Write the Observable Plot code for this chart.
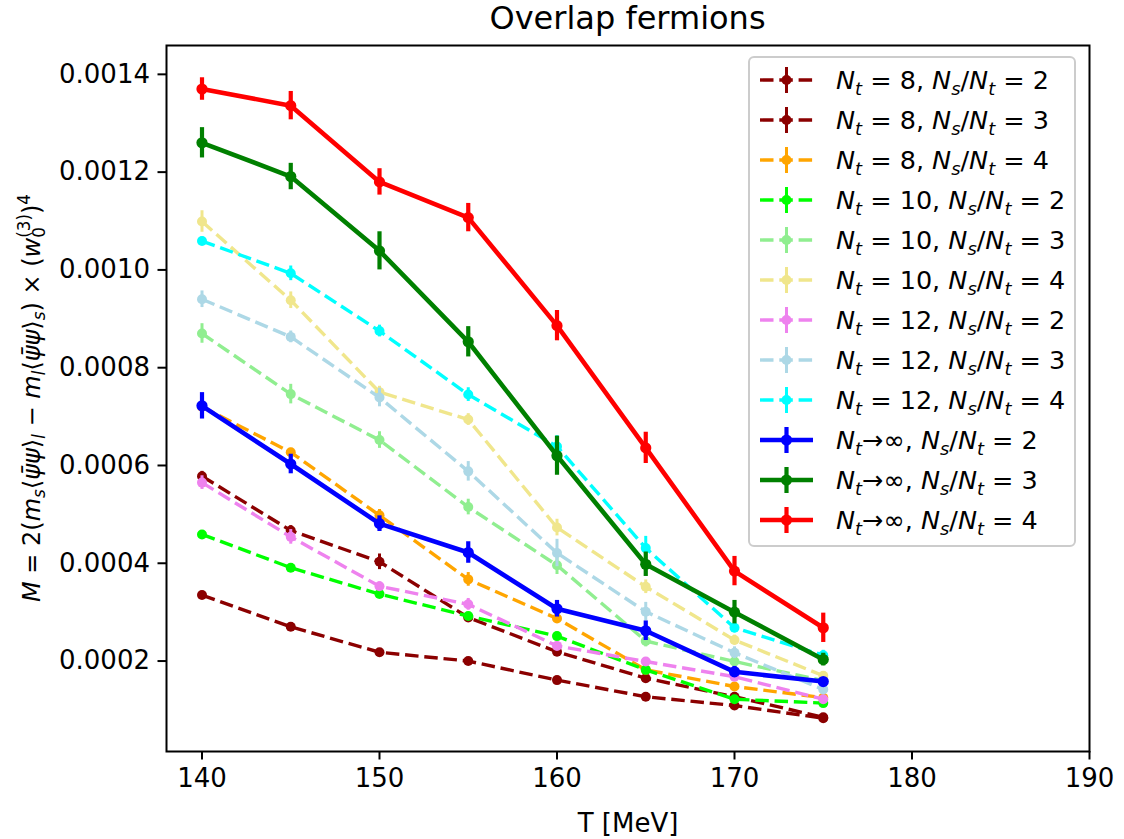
<!DOCTYPE html>
<html>
<head>
<meta charset="utf-8">
<script src="https://cdn.jsdelivr.net/npm/d3@7"></script>
<script src="https://cdn.jsdelivr.net/npm/@observablehq/plot@0.6"></script>
<style>
  html, body { margin: 0; padding: 0; background: white; }
  #chart { width: 1124px; height: 839px; }
</style>
</head>
<body>
<div id="chart"></div>
<script>
// ---------- data ----------
const T = [140, 145, 150, 155, 160, 165, 170, 175];

const m_nt8_r2  = [0.000335, 0.000270, 0.000218, 0.000200, 0.000161, 0.000127, 0.000109, 0.000083];
const e_nt8_r2  = [0.000004, 0.000004, 0.000004, 0.000004, 0.000004, 0.000004, 0.000004, 0.000004];
const m_nt8_r3  = [0.000578, 0.000467, 0.000403, 0.000289, 0.000219, 0.000165, 0.000127, 0.000085];
const e_nt8_r3  = [0.000010, 0.000010, 0.000016, 0.000008, 0.000008, 0.000006, 0.000006, 0.000005];
const m_nt8_r4  = [0.000720, 0.000627, 0.000498, 0.000367, 0.000287, 0.000182, 0.000148, 0.000125];
const e_nt8_r4  = [0.000008, 0.000008, 0.000012, 0.000014, 0.000010, 0.000008, 0.000006, 0.000006];
const m_nt10_r2 = [0.000459, 0.000391, 0.000337, 0.000292, 0.000251, 0.000182, 0.000122, 0.000114];
const e_nt10_r2 = [0.000006, 0.000006, 0.000008, 0.000006, 0.000008, 0.000006, 0.000006, 0.000005];
const m_nt10_r3 = [0.000870, 0.000746, 0.000652, 0.000515, 0.000396, 0.000241, 0.000199, 0.000160];
const e_nt10_r3 = [0.000020, 0.000020, 0.000017, 0.000016, 0.000019, 0.000012, 0.000010, 0.000008];
const m_nt10_r4 = [0.001099, 0.000938, 0.000750, 0.000694, 0.000473, 0.000352, 0.000243, 0.000170];
const e_nt10_r4 = [0.000022, 0.000017, 0.000012, 0.000012, 0.000017, 0.000014, 0.000010, 0.000008];
const m_nt12_r2 = [0.000565, 0.000454, 0.000353, 0.000316, 0.000231, 0.000199, 0.000168, 0.000122];
const e_nt12_r2 = [0.000014, 0.000015, 0.000009, 0.000012, 0.000008, 0.000008, 0.000006, 0.000006];
const m_nt12_r3 = [0.000940, 0.000863, 0.000739, 0.000588, 0.000421, 0.000301, 0.000217, 0.000142];
const e_nt12_r3 = [0.000017, 0.000012, 0.000019, 0.000020, 0.000028, 0.000019, 0.000012, 0.000008];
const m_nt12_r4 = [0.001059, 0.000993, 0.000875, 0.000745, 0.000639, 0.000431, 0.000268, 0.000212];
const e_nt12_r4 = [0.000008, 0.000015, 0.000012, 0.000014, 0.000022, 0.000024, 0.000010, 0.000010];
const m_inf_r2  = [0.000722, 0.000603, 0.000481, 0.000422, 0.000307, 0.000262, 0.000178, 0.000158];
const e_inf_r2  = [0.000027, 0.000020, 0.000016, 0.000022, 0.000017, 0.000020, 0.000011, 0.000008];
const m_inf_r3  = [0.001260, 0.001191, 0.001039, 0.000853, 0.000620, 0.000398, 0.000300, 0.000203];
const e_inf_r3  = [0.000031, 0.000027, 0.000039, 0.000031, 0.000040, 0.000025, 0.000024, 0.000013];
const m_inf_r4  = [0.001370, 0.001336, 0.001180, 0.001107, 0.000886, 0.000636, 0.000384, 0.000268];
const e_inf_r4  = [0.000023, 0.000029, 0.000027, 0.000029, 0.000031, 0.000032, 0.000030, 0.000030];

const xTicks = [140, 150, 160, 170, 180, 190];
const yTicks = [0.0002, 0.0004, 0.0006, 0.0008, 0.0010, 0.0012, 0.0014];

const seriesNt    = ["8", "8", "8", "10", "10", "10", "12", "12", "12", "inf", "inf", "inf"];
const seriesRatio = ["2", "3", "4", "2", "3", "4", "2", "3", "4", "2", "3", "4"];
const seriesColor = ["#8b0000", "#8b0000", "#ffa500", "#00ff00", "#90ee90", "#f0e68c",
                     "#ee82ee", "#add8e6", "#00ffff", "#0000ff", "#008000", "#ff0000"];
const seriesM = [m_nt8_r2, m_nt8_r3, m_nt8_r4, m_nt10_r2, m_nt10_r3, m_nt10_r4,
                 m_nt12_r2, m_nt12_r3, m_nt12_r4, m_inf_r2, m_inf_r3, m_inf_r4];
const seriesE = [e_nt8_r2, e_nt8_r3, e_nt8_r4, e_nt10_r2, e_nt10_r3, e_nt10_r4,
                 e_nt12_r2, e_nt12_r3, e_nt12_r4, e_inf_r2, e_inf_r3, e_inf_r4];

// ---------- styles ----------
const DASH = "13.5,5.8";
function styleFor(i) {
  const solid = seriesNt[i] === "inf";
  return {
    color: seriesColor[i],
    dash: solid ? null : DASH,
    lw: solid ? 4.6 : 3.4,
    ew: solid ? 4.2 : 3.0,
    r: solid ? 5.6 : 5.0
  };
}

const TICK_FS = 26;

// ---------- marks ----------
const marks = [];
seriesM.forEach((vals, i) => {
  const st = styleFor(i);
  const rows = T.map((t, j) => ({T: t, M: vals[j], lo: vals[j] - seriesE[i][j], hi: vals[j] + seriesE[i][j]}));
  marks.push(Plot.line(rows, {x: "T", y: "M", stroke: st.color, strokeWidth: st.lw,
    strokeDasharray: st.dash || undefined, strokeLinejoin: "round", strokeLinecap: "butt"}));
  marks.push(Plot.ruleX(rows, {x: "T", y1: "lo", y2: "hi", stroke: st.color, strokeWidth: st.ew}));
  marks.push(Plot.dot(rows, {x: "T", y: "M", r: st.r, fill: st.color, stroke: "none"}));
});

const chart = Plot.plot({
  width: 1124,
  height: 839,
  marginLeft: 166,
  marginRight: 35,
  marginTop: 45,
  marginBottom: 88,
  x: {domain: [138, 190]},
  y: {domain: [0.000015, 0.001459]},
  style: {fontFamily: "'DejaVu Sans', sans-serif", fontSize: TICK_FS + "px", background: "white", color: "black"},
  marks: [
    ...marks,
    Plot.frame({stroke: "black", strokeWidth: 2}),
    Plot.axisX({ticks: xTicks, tickSize: 8.5, tickPadding: 9, strokeWidth: 2, fontSize: TICK_FS,
      label: "T [MeV]", labelAnchor: "center", labelArrow: "none", labelOffset: 80}),
    Plot.axisY({ticks: yTicks, tickFormat: d3.format(".4f"), tickSize: 8.5, tickPadding: 8,
      strokeWidth: 2, fontSize: TICK_FS, label: null})
  ]
});
document.getElementById("chart").appendChild(chart);

// ---------- helper for math-like text ----------
function mathText(sel, parts, size) {
  let cur = 0;
  parts.forEach(p => {
    const shift = p.sub ? 0.22 * size : p.sup ? -0.42 * size : 0;
    const fs = (p.sub || p.sup) ? size * 0.7 : size;
    const ts = sel.append("tspan")
      .attr("font-size", fs)
      .attr("dy", shift - cur)
      .text(p.t);
    if (p.i) ts.attr("font-style", "italic");
    if (p.dx) ts.attr("dx", p.dx);
    cur = shift;
  });
  if (cur !== 0) sel.append("tspan").attr("dy", -cur).text("");
}

const svg = d3.select(chart);
const FS = 24;
const LFS = 25.5;

// title
svg.append("text")
  .attr("x", (166 + 1089) / 2).attr("y", 29)
  .attr("text-anchor", "middle")
  .attr("font-size", 32)
  .attr("fill", "black")
  .text("Overlap fermions");

// y label
const yl = svg.append("text")
  .attr("transform", `translate(40, ${(45 + 751) / 2}) rotate(-90)`)
  .attr("text-anchor", "middle")
  .attr("font-size", FS)
  .attr("fill", "black");
mathText(yl, [
  {t: "M", i: true}, {t: " = 2("}, {t: "m", i: true}, {t: "s", i: true, sub: true},
  {t: "⟨"}, {t: "ψ̄ψ", i: true}, {t: "⟩"}, {t: "l", i: true, sub: true},
  {t: " − "}, {t: "m", i: true}, {t: "l", i: true, sub: true},
  {t: "⟨"}, {t: "ψ̄ψ", i: true}, {t: "⟩"}, {t: "s", i: true, sub: true},
  {t: ") × ("}, {t: "w", i: true}, {t: "0", sub: true},
  {t: "(3)", sup: true, dx: -10.7}, {t: ")"}, {t: "4", sup: true}
], FS);

// legend
const lg = svg.append("g");
const L = {x: 749, y: 57, w: 326, h: 489};
lg.append("rect")
  .attr("x", L.x).attr("y", L.y).attr("width", L.w).attr("height", L.h)
  .attr("rx", 5).attr("fill", "white").attr("fill-opacity", 0.8)
  .attr("stroke", "#cccccc").attr("stroke-width", 2);

seriesM.forEach((_, i) => {
  const st = styleFor(i);
  const cy = 80 + 40 * i;
  const g = lg.append("g");
  g.append("line")
    .attr("x1", 760).attr("x2", 813).attr("y1", cy).attr("y2", cy)
    .attr("stroke", st.color).attr("stroke-width", st.lw)
    .attr("stroke-dasharray", st.dash ? "13.5,5.8" : null);
  g.append("line")
    .attr("x1", 786.5).attr("x2", 786.5).attr("y1", cy - 13).attr("y2", cy + 13)
    .attr("stroke", st.color).attr("stroke-width", st.ew);
  g.append("circle").attr("cx", 786.5).attr("cy", cy).attr("r", st.r).attr("fill", st.color);
  const tx = g.append("text").attr("x", 836).attr("y", cy + 9)
    .attr("text-anchor", "start").attr("font-size", LFS).attr("fill", "black");
  const parts = [{t: "N", i: true}, {t: "t", i: true, sub: true}];
  if (seriesNt[i] === "inf") parts.push({t: "→∞, "});
  else parts.push({t: " = " + seriesNt[i] + ", "});
  parts.push({t: "N", i: true}, {t: "s", i: true, sub: true}, {t: "/"}, {t: "N", i: true},
             {t: "t", i: true, sub: true}, {t: " = " + seriesRatio[i]});
  mathText(tx, parts, LFS);
});
</script>
</body>
</html>
